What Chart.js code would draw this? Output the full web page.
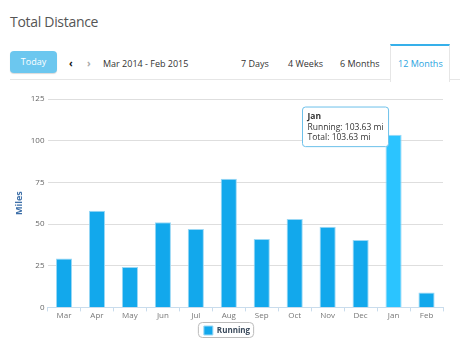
<!DOCTYPE html>
<html>
<head>
<meta charset="utf-8">
<script src="https://cdn.jsdelivr.net/npm/chart.js@4"></script>
<style>
  body { margin: 0; background: #fff; font-family: "Open Sans", sans-serif; }
  #wrap { position: relative; width: 471px; height: 359px; overflow: hidden; }
  .title { position: absolute; left: 10px; top: 12px; font-size: 14px; letter-spacing: -0.3px; color: #555; }
  .today { position: absolute; left: 10px; top: 51px; width: 47px; height: 22px; background: #6cc7ef;
           border-radius: 4px; color: #fff; font-size: 9px; line-height: 22px; text-align: center;
           box-shadow: 0 1px 1px rgba(0,0,0,0.15); }
  .arr { position: absolute; top: 56px; font-size: 10px; font-weight: bold; }
  .range { position: absolute; left: 103px; top: 57px; font-size: 9px; color: #333; }
  .tab { position: absolute; top: 57px; font-size: 9px; color: #333; }
  .tab.on { color: #2aa3e0; }
  .tabbox { position: absolute; left: 390px; top: 44px; width: 58px; height: 36px; border-top: 2px solid #36b0ea;
            border-left: 1px solid #e6e6e6; border-right: 1px solid #e6e6e6; background: #fff; }
  .rule { position: absolute; left: 10px; top: 79px; width: 450px; height: 1px; background: #e6e6e6; }
  canvas { position: absolute; left: 0; top: 85px; }
</style>
</head>
<body>
<div id="wrap">
  <div class="title">Total Distance</div>
  <div class="rule"></div>
  <div class="today">Today</div>
  <div class="arr" style="left:69px;color:#111">&#8249;</div>
  <div class="arr" style="left:87px;color:#aaa">&#8250;</div>
  <div class="range">Mar 2014 - Feb 2015</div>
  <div class="tabbox"></div>
  <div class="tab" style="left:241px">7 Days</div>
  <div class="tab" style="left:288px">4 Weeks</div>
  <div class="tab" style="left:340px">6 Months</div>
  <div class="tab on" style="left:398px">12 Months</div>
  <canvas id="chart" width="471" height="268"></canvas>
</div>
<script>
var months = ['Mar', 'Apr', 'May', 'Jun', 'Jul', 'Aug', 'Sep', 'Oct', 'Nov', 'Dec', 'Jan', 'Feb'];
var running = [29.3, 57.9, 24.2, 51.0, 47.0, 77.1, 41.1, 53.0, 48.4, 40.5, 103.63, 9.0];
var yTicks = [0, 25, 50, 75, 100, 125];
var activeIndex = 10;

Chart.Tooltip.positioners.leftTop = function (items) {
    if (!items.length) return false;
    var el = items[0].element;
    return { x: el.x - 8, y: el.y + 14 };
};

var legendBox = {
    id: 'legendBox',
    afterDraw: function (chart) {
        var lg = chart.legend;
        var h = lg.legendHitBoxes[0];
        if (!h) return;
        var ctx = chart.ctx;
        ctx.save();
        ctx.strokeStyle = '#bbb';
        ctx.lineWidth = 1;
        ctx.beginPath();
        ctx.roundRect(h.left - 5.5, h.top - 3.5, h.width + 9, h.height + 6, 4);
        ctx.stroke();
        ctx.restore();
    }
};

var ctx = document.getElementById('chart').getContext('2d');
var chart = new Chart(ctx, {
    type: 'bar',
    data: {
        labels: months,
        datasets: [{
            label: 'Running',
            data: running,
            backgroundColor: '#12a8ec',
            hoverBackgroundColor: '#2bc4ff',
            borderColor: '#9ad8f5',
            hoverBorderColor: '#9ad8f5',
            borderWidth: 1,
            barPercentage: 0.98,
            categoryPercentage: 0.5
        }]
    },
    options: {
        responsive: false,
        animation: false,
        layout: { padding: { left: 11, right: 28, top: 14, bottom: 8 } },
        scales: {
            x: {
                grid: { drawOnChartArea: false, color: '#c9dcec', tickLength: 4 },
                border: { color: '#c9dcec' },
                ticks: { color: '#777', font: { family: 'Open Sans', size: 8 }, padding: 0 }
            },
            y: {
                min: 0,
                max: 125,
                afterBuildTicks: function (axis) {
                    axis.ticks = yTicks.map(function (v) { return { value: v }; });
                },
                grid: { color: '#dedede', drawTicks: false },
                border: { display: false },
                ticks: { color: '#666', font: { family: 'Open Sans', size: 8 }, padding: 3 },
                title: { display: true, text: 'Miles', color: '#3d6fa8',
                         font: { family: 'Open Sans', size: 9, weight: 'bold' }, padding: 3 }
            }
        },
        plugins: {
            legend: {
                position: 'bottom',
                labels: { boxWidth: 9, boxHeight: 9, color: '#3a4a5c', padding: 5,
                          font: { family: 'Open Sans', size: 8, weight: 'bold' } }
            },
            tooltip: {
                position: 'leftTop',
                xAlign: 'right',
                yAlign: 'bottom',
                caretSize: 0,
                backgroundColor: '#fff',
                borderColor: '#6cc0ea',
                borderWidth: 1,
                cornerRadius: 3,
                titleColor: '#333',
                bodyColor: '#333',
                footerColor: '#333',
                titleFont: { family: 'Open Sans', size: 8.5, weight: 'bold' },
                bodyFont: { family: 'Open Sans', size: 8.5 },
                footerFont: { family: 'Open Sans', size: 8.5, weight: 'normal' },
                titleMarginBottom: 1,
                footerMarginTop: 0,
                padding: { left: 5, right: 5, top: 4, bottom: 4 },
                displayColors: false,
                callbacks: {
                    label: function (item) { return item.dataset.label + ': ' + item.raw.toFixed(2) + ' mi'; },
                    footer: function (items) {
                        var t = 0;
                        items.forEach(function (i) { t += i.raw; });
                        return 'Total: ' + t.toFixed(2) + ' mi';
                    }
                }
            }
        }
    },
    plugins: [legendBox]
});

chart.setActiveElements([{ datasetIndex: 0, index: activeIndex }]);
chart.tooltip.setActiveElements([{ datasetIndex: 0, index: activeIndex }], { x: 0, y: 0 });
chart.update();
</script>
</body>
</html>
